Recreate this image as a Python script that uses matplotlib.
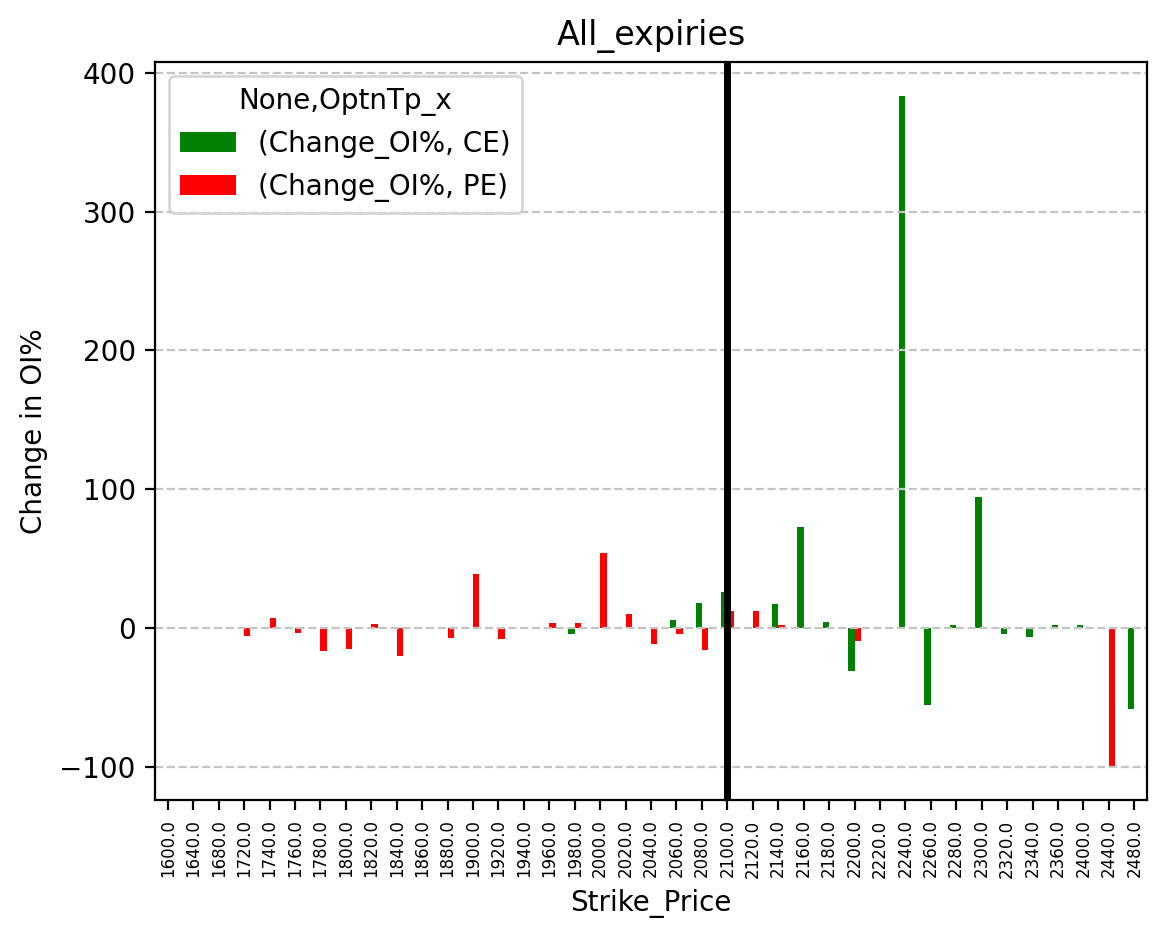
import numpy as np
import pandas as pd
import matplotlib
matplotlib.use("Agg")
import matplotlib.pyplot as plt

strikes = [1600, 1640, 1680, 1720, 1740, 1760, 1780, 1800, 1820, 1840, 1860, 1880,
           1900, 1920, 1940, 1960, 1980, 2000, 2020, 2040, 2060, 2080, 2100, 2120,
           2140, 2160, 2180, 2200, 2220, 2240, 2260, 2280, 2300, 2320, 2340, 2360,
           2400, 2440, 2480]
nan = np.nan
ce = [nan, nan, nan, nan, nan, nan, nan, nan, nan, nan, nan, nan,
      nan, nan, nan, nan, -4.3, nan, nan, nan, 6.2, 18.5, 26.4, nan,
      17.8, 73.2, 4.8, -31.0, 0.6, 383.5, -55.0, 2.7, 94.7, -4.3, -6.5, 2.7,
      2.0, nan, -58.0]
pe = [nan, nan, nan, -5.5, 7.2, -3.4, -16.3, -15.0, 2.9, -20.0, nan, -7.0,
      39.4, -8.0, nan, 4.0, 4.0, 54.5, 10.0, -11.5, -4.3, -15.6, 12.7, 12.7,
      2.0, -0.6, nan, -9.0, nan, nan, nan, nan, nan, nan, nan, nan,
      nan, -99.5, nan]
labels = ["(Change_OI%, CE)", "(Change_OI%, PE)"]
spot = 2100

df = pd.DataFrame({labels[0]: ce, labels[1]: pe},
                  index=pd.Index([float(s) for s in strikes], name="Strike_Price"))

fig = plt.figure(figsize=(5.83, 4.695), dpi=200)
ax = fig.add_axes([0.133, 0.148, 0.8507, 0.786])
df.plot.bar(ax=ax, color=["green", "red"])
ax.axvline(strikes.index(spot), color="black", linewidth=2.5)
ax.grid(axis="y", linestyle="--", color="#c4c4c4", linewidth=0.8)
ax.set_title("All_expiries")
ax.set_ylabel("Change in OI%")
ax.set_xlabel("Strike_Price")
ax.tick_params(axis="x", labelsize=6, labelrotation=90)
ax.legend(title="None,OptnTp_x", loc="upper left")
fig.savefig("out.png", dpi=200)
